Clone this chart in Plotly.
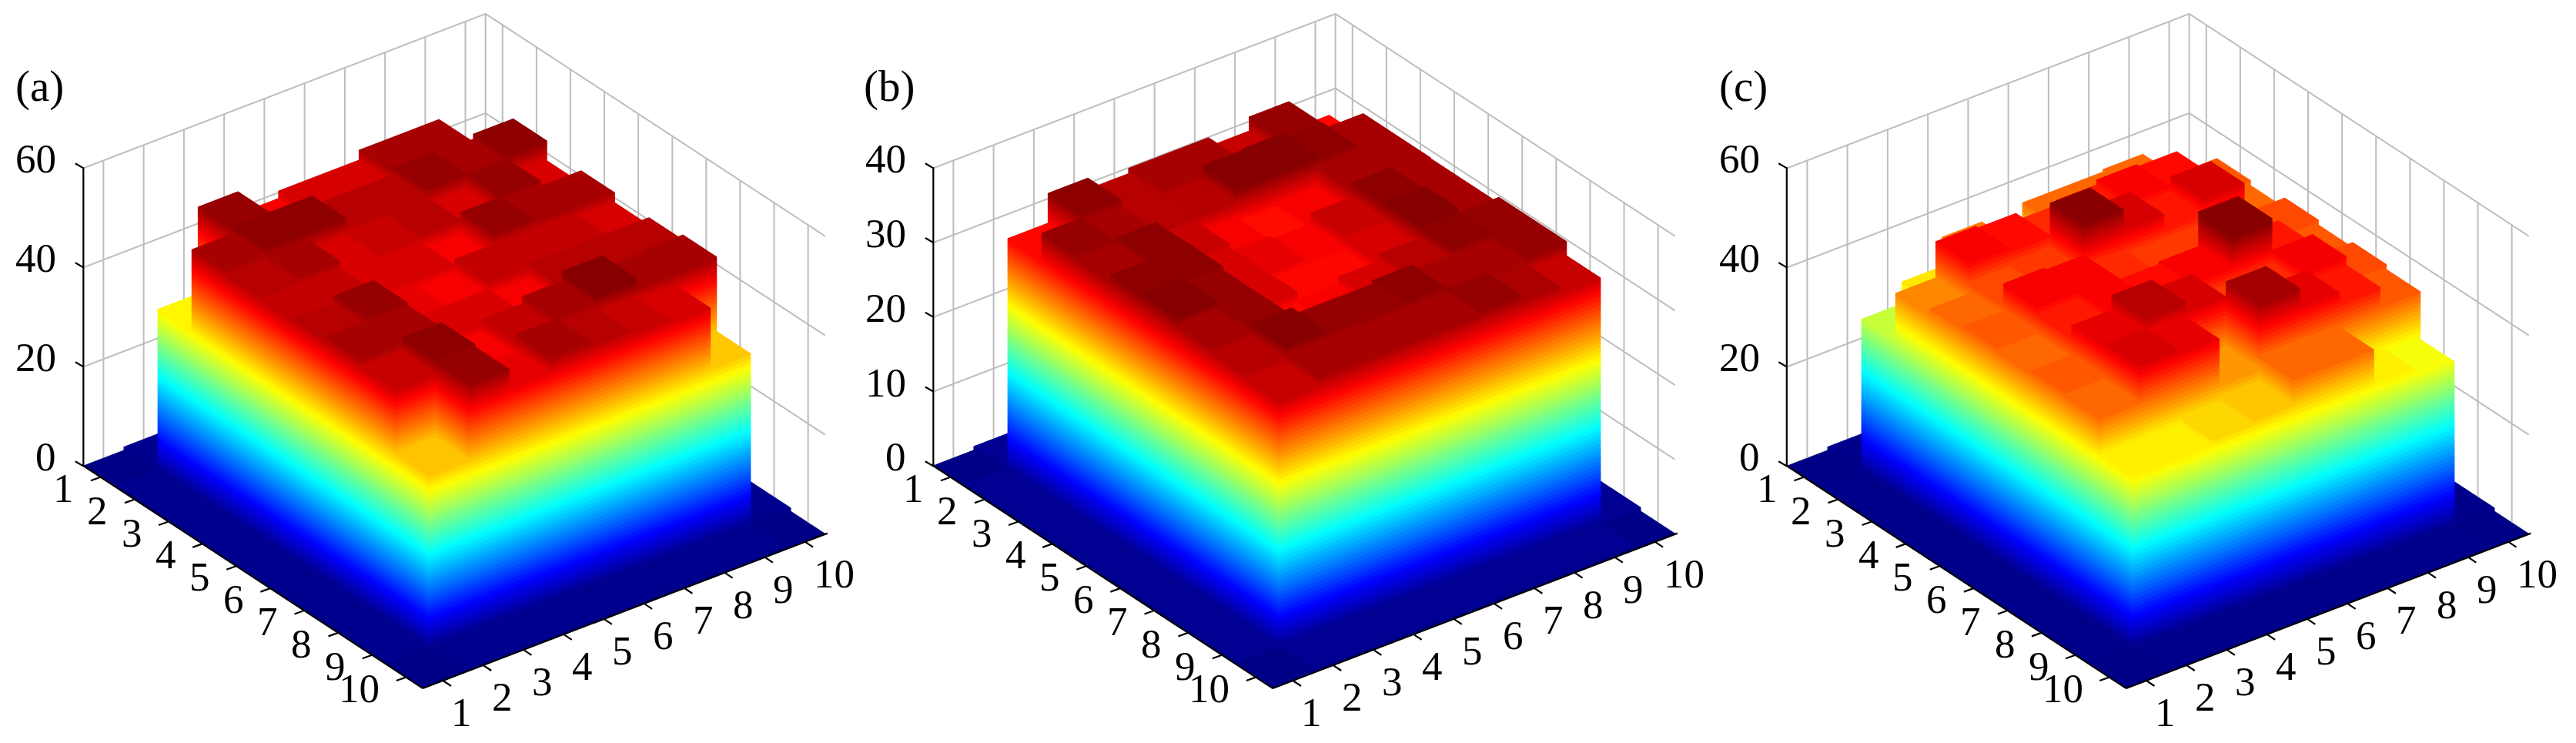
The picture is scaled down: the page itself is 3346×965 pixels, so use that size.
import plotly.graph_objects as go

ticks = [1, 2, 3, 4, 5, 6, 7, 8, 9, 10]
panel_labels = ["(a)", "(b)", "(c)"]
ztick_a = [0, 20, 40, 60]
ztick_b = [0, 10, 20, 30, 40]
ztick_c = [0, 20, 40, 60]

heights_a = [
 [0.1,0.8,0.8,0.8,0.8,0.8,0.8,0.8,0.8,0.1],
 [0.8,33,50.5,46,47.5,47.5,49.5,49.5,36,0.8],
 [0.8,49.5,51,51,49,49,50.5,50,51,0.8],
 [0.8,49,50,47,48,49,47,50.5,47,0.8],
 [0.8,48.5,48.5,47,47.5,45.5,50.4,50,49.5,0.8],
 [0.8,49,50.5,46.5,46,48.5,48.5,48.5,47.5,0.8],
 [0.8,50,50,47,47,46,49,49,49,0.8],
 [0.8,48,51,45.5,48.5,50,52,49.5,50,0.8],
 [0.8,35.5,50.5,46.5,50,49,48,47.3,35,0.8],
 [0.1,0.8,0.8,0.8,0.8,0.8,0.8,0.8,0.8,0.1],
]
heights_b = [
 [0.1,0.6,0.6,0.6,0.6,0.6,0.6,0.6,0.6,0.1],
 [0.6,31.5,35.5,34,34.7,34.7,33.5,35.4,31.5,0.6],
 [0.6,35.2,34.5,34.2,34.3,36,36.2,35.5,34.7,0.6],
 [0.6,34.7,35.5,33.5,32,31,32,34.6,34.7,0.6],
 [0.6,35.5,35.5,33,32.5,32,33.5,35.5,34.6,0.6],
 [0.6,36,35,33,31.5,31.5,33,36,34.6,0.6],
 [0.6,34.8,35,31.5,32,33,34,35.5,35.4,0.6],
 [0.6,34.3,36,35,35,35.5,34.8,34.8,35.4,0.6],
 [0.6,33.5,34.8,34.8,34.8,34.6,35.4,34.4,33.5,0.6],
 [0.1,0.6,0.6,0.6,0.6,0.6,0.6,0.6,0.6,0.1],
]
heights_c = [
 [0.1,0.8,0.8,0.8,0.8,0.8,0.8,0.8,0.8,0.1],
 [0.8,31,35.4,41.3,38,42,42,42.5,33,0.8],
 [0.8,40.7,48,47.5,46,47,48,47.5,43,0.8],
 [0.8,42,44,45,54,50,47,50,42,0.8],
 [0.8,43,48.5,48,46,45,45,46,44,0.8],
 [0.8,42.5,46.5,48,47.5,48,55,47,43,0.8],
 [0.8,43,49,52,50,45,46,48.7,44,0.8],
 [0.8,42,49.8,49,40,53,49,47,43,0.8],
 [0.8,35,35,36,37.5,42,42,35,33.4,0.8],
 [0.1,0.8,0.8,0.8,0.8,0.8,0.8,0.8,0.8,0.1],
]


def jet64():
    def ramp(v):
        return max(0.0, min(1.0, 1.5 - abs(4 * v)))
    stops = []
    for k in range(64):
        v = (k + 0.5) / 64
        c = "rgb(%d,%d,%d)" % tuple(round(255 * ramp(v - o)) for o in (0.75, 0.5, 0.25))
        stops.append([k / 64, c])
        stops.append([(k + 1) / 64, c])
    return stops


def bars(Z, scene):
    X, Y, H, I, J, K, C = [], [], [], [], [], [], []
    faces = [(4, 5, 6), (4, 6, 7), (0, 1, 5), (0, 5, 4), (1, 2, 6), (1, 6, 5),
             (2, 3, 7), (2, 7, 6), (3, 0, 4), (3, 4, 7)]
    for r, row in enumerate(Z, start=1):
        for c, h in enumerate(row, start=1):
            n = len(X)
            for z in (0, h):
                for dx, dy in ((-.5, -.5), (.5, -.5), (.5, .5), (-.5, .5)):
                    X.append(c + dx)
                    Y.append(r + dy)
                    H.append(z)
                    C.append(z)
            for a, b, d in faces:
                I.append(n + a); J.append(n + b); K.append(n + d)
    zmax = max(max(row) for row in Z)
    return go.Mesh3d(x=X, y=Y, z=H, i=I, j=J, k=K, intensity=C, intensitymode="vertex",
                     colorscale=jet64(), cmin=0, cmax=zmax, showscale=False, flatshading=True,
                     lighting=dict(ambient=1, diffuse=0, specular=0, roughness=1, fresnel=0),
                     hoverinfo="skip", scene=scene)


GRID = "#bdbdbd"
LO, HI = 0.5, 10.5
PAD = 0.01


def wall_grid(zt, zm, scene):
    xs, ys, zs = [], [], []
    for t in ticks:
        xs += [t, t, None]; ys += [LO, LO, None]; zs += [0, zm, None]
        xs += [HI, HI, None]; ys += [t, t, None]; zs += [0, zm, None]
    for t in zt:
        xs += [LO, HI, HI, None]; ys += [LO, LO, HI, None]; zs += [t, t, t, None]
    xs += [HI, HI, None]; ys += [LO, LO, None]; zs += [0, zm, None]
    return go.Scatter3d(x=xs, y=ys, z=zs, mode="lines", line=dict(color=GRID, width=4), hoverinfo="skip",
                        showlegend=False, scene=scene)


FONT = dict(family="Liberation Serif", size=53, color="black")
TINY = dict(size=1, color="rgba(0,0,0,0)")


def axis(tv, rng):
    return dict(range=rng, tickvals=tv, showticklabels=False, title=dict(text=""),
                showgrid=False, showbackground=False, zeroline=False, showline=False, ticks="",
                showspikes=False)


def stroke(x, y, z, ax, ay, width=2.2):
    return dict(x=x, y=y, z=z, text=" ", font=TINY, showarrow=True, arrowhead=0, arrowwidth=width,
                arrowcolor="black", ax=ax, ay=ay, standoff=0, startstandoff=0)


def labels(zt, zm):
    out = [stroke(LO, HI, 0, -444, -291), stroke(LO, HI, 0, 527, -202), stroke(LO, LO, 0, 0, -390)]
    for c in ticks:
        out.append(dict(x=c, y=HI, z=0, text=str(c), showarrow=False, font=FONT, xanchor="left",
                        yanchor="middle", xshift=9, yshift=-41))
        out.append(stroke(c, HI, 0, 12, 8))
    for r in ticks:
        out.append(dict(x=LO, y=r, z=0, text=str(r), showarrow=False, font=FONT, xanchor="right",
                        yanchor="middle", xshift=-32, yshift=-14))
        out.append(stroke(LO, r, 0, -14, 5))
    for t in zt:
        out.append(dict(x=LO, y=LO, z=t, text=str(t), showarrow=False, font=FONT, xanchor="right",
                        yanchor="middle", xshift=-33, yshift=12))
        out.append(stroke(LO, LO, t, -12, -7))
    return out


W, H = 3346, 965
centres = [582, 1686, 2794.5]
half_w, half_h = 540, 448
cy = half_h
DIST = 2.0
ZOOM = 1.452 * 454 / half_h
LROW, LZ = 1.1026, 0.6797
eye = dict(x=-0.526 * DIST, y=-0.687 * DIST, z=0.5012 * DIST)
fig = go.Figure()
panels = [(heights_a, ztick_a, 60), (heights_b, ztick_b, 40), (heights_c, ztick_c, 60)]
for n, (Z, zt, zm) in enumerate(panels):
    name = "scene" if n == 0 else f"scene{n+1}"
    fig.add_trace(wall_grid(zt, zm, name))
    fig.add_trace(bars(Z, name))
    fig.update_layout({name: dict(
        domain=dict(x=[(centres[n] - half_w) / W, (centres[n] + half_w) / W],
                    y=[1 - (cy + half_h) / H, 1 - (cy - half_h) / H]),
        xaxis=axis(ticks, [LO - PAD, HI + PAD]), yaxis=axis(ticks, [HI + PAD, LO - PAD]),
        zaxis=axis(zt, [-PAD * zm / 10, zm * (1 + PAD / 10)]),
        aspectmode="manual", aspectratio=dict(x=ZOOM, y=ZOOM * LROW, z=ZOOM * LZ),
        camera=dict(eye=eye, center=dict(x=0, y=0, z=0), up=dict(x=0, y=0, z=1),
                    projection=dict(type="orthographic")),
        annotations=labels(zt, zm),
        bgcolor="white")})

for t, x in zip(panel_labels, [10, 1112, 2223]):
    fig.add_annotation(text=t, x=x / W, y=1 - 104 / H, xref="paper", yref="paper", xanchor="left",
                       yanchor="middle", showarrow=False, font=dict(family="Liberation Serif", size=57, color="black"))
fig.update_layout(width=W, height=H, margin=dict(l=0, r=0, t=0, b=0), paper_bgcolor="white", showlegend=False)
fig.write_html("out.html")
